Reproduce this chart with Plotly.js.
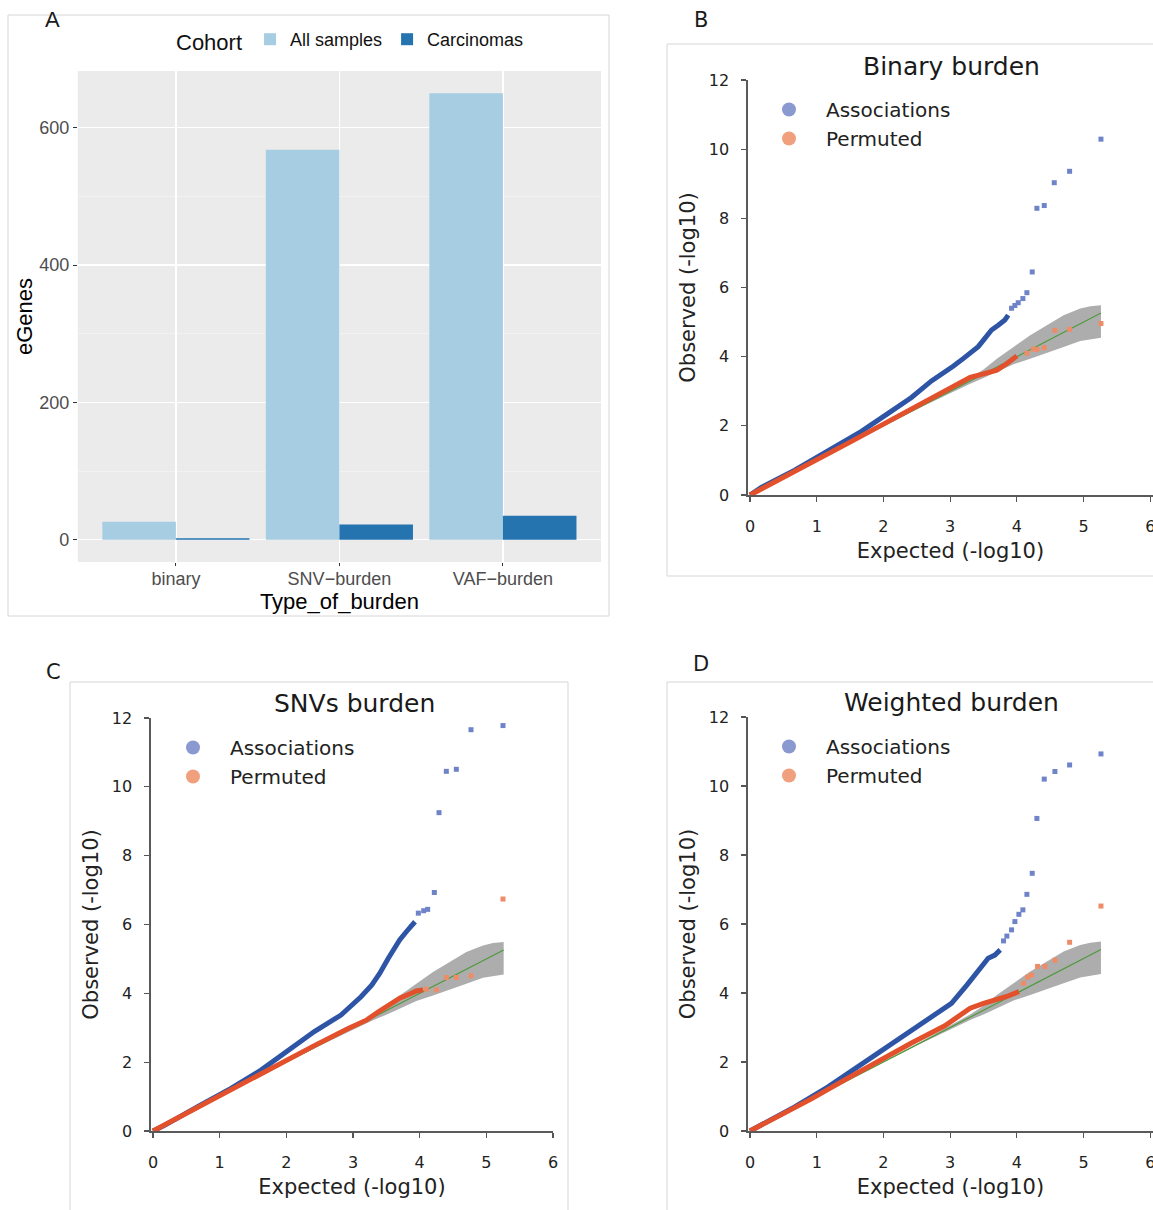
<!DOCTYPE html>
<html><head><meta charset="utf-8">
<script src="https://cdn.plot.ly/plotly-3.0.1.min.js"></script>
<style>html,body{margin:0;padding:0;background:#fff}#chart{width:1153px;height:1210px}</style>
</head><body><div id="chart"></div>
<script>
// ---------- Panel A data ----------
const burdenTypes = ['binary', 'SNV\u2212burden', 'VAF\u2212burden'];
const allSamples = [26, 568, 650];
const carcinomas = [2, 22, 35];

// ---------- shared QQ reference (null line + confidence band) ----------
const nullLineX = [0, 5.26];
const nullLineY = [0, 5.26];
const bandX     = [0, 1, 2, 2.6, 3.0, 3.3, 3.5, 3.7, 3.95, 4.2, 4.45, 4.7, 4.95, 5.1, 5.26];
const bandUpper = [0, 1.0, 2.01, 2.63, 3.05, 3.38, 3.63, 3.94, 4.28, 4.62, 4.91, 5.20, 5.39, 5.46, 5.49];
const bandLower = [0, 1.0, 1.99, 2.57, 2.95, 3.22, 3.38, 3.55, 3.78, 3.94, 4.12, 4.28, 4.45, 4.50, 4.55];

// ---------- Panel B: Binary burden ----------
const binAssocDenseX = [0, 0.17, 0.67, 1.17, 1.67, 2.07, 2.42, 2.72, 2.90, 3.05, 3.20, 3.32, 3.42, 3.52, 3.62, 3.72, 3.82, 3.87];
const binAssocDenseY = [0, 0.22, 0.72, 1.26, 1.84, 2.36, 2.82, 3.30, 3.52, 3.73, 3.95, 4.14, 4.29, 4.53, 4.77, 4.91, 5.06, 5.20];
const binAssocTailX  = [3.92, 3.97, 4.02, 4.09, 4.15, 4.23, 4.30, 4.41, 4.56, 4.79, 5.26];
const binAssocTailY  = [5.40, 5.48, 5.56, 5.68, 5.85, 6.45, 8.29, 8.37, 9.03, 9.36, 10.29];
const binPermDenseX  = [0, 0.5, 1.0, 1.5, 2.0, 2.5, 2.9, 3.1, 3.3, 3.5, 3.7, 3.85, 4.0];
const binPermDenseY  = [0, 0.5, 1.02, 1.53, 2.05, 2.56, 2.97, 3.20, 3.40, 3.50, 3.61, 3.80, 4.02];
const binPermTailX   = [4.15, 4.25, 4.30, 4.41, 4.57, 4.79, 5.26];
const binPermTailY   = [4.10, 4.22, 4.21, 4.26, 4.76, 4.79, 4.96];

// ---------- Panel C: SNVs burden ----------
const snvAssocDenseX = [0, 0.18, 0.67, 1.17, 1.62, 2.02, 2.42, 2.82, 3.12, 3.28, 3.40, 3.53, 3.60, 3.70, 3.80, 3.93];
const snvAssocDenseY = [0, 0.17, 0.71, 1.24, 1.77, 2.31, 2.89, 3.37, 3.90, 4.24, 4.58, 5.02, 5.26, 5.55, 5.79, 6.08];
const snvAssocTailX  = [3.98, 4.06, 4.12, 4.22, 4.29, 4.40, 4.55, 4.77, 5.25];
const snvAssocTailY  = [6.33, 6.40, 6.44, 6.93, 9.25, 10.45, 10.51, 11.66, 11.78];
const snvPermDenseX  = [0, 0.5, 1.0, 1.5, 1.92, 2.42, 2.92, 3.20, 3.37, 3.55, 3.70, 3.85, 3.95, 4.05];
const snvPermDenseY  = [0, 0.52, 1.04, 1.56, 2.0, 2.48, 2.97, 3.22, 3.45, 3.68, 3.86, 3.98, 4.07, 4.10];
const snvPermTailX   = [4.10, 4.25, 4.40, 4.55, 4.77, 5.25];
const snvPermTailY   = [4.12, 4.10, 4.46, 4.46, 4.51, 6.74];

// ---------- Panel D: Weighted burden ----------
const wAssocDenseX = [0, 0.17, 0.67, 1.17, 1.62, 2.02, 2.42, 2.72, 3.02, 3.25, 3.37, 3.47, 3.57, 3.67, 3.75];
const wAssocDenseY = [0, 0.17, 0.70, 1.28, 1.86, 2.40, 2.93, 3.31, 3.70, 4.23, 4.52, 4.81, 5.01, 5.10, 5.25];
const wAssocTailX  = [3.80, 3.85, 3.92, 3.97, 4.03, 4.09, 4.15, 4.23, 4.30, 4.41, 4.57, 4.79, 5.26];
const wAssocTailY  = [5.51, 5.65, 5.83, 6.07, 6.28, 6.41, 6.86, 7.47, 9.06, 10.20, 10.42, 10.61, 10.93];
const wPermDenseX  = [0, 0.92, 1.42, 1.92, 2.42, 2.92, 3.30, 3.50, 3.70, 3.85, 4.03];
const wPermDenseY  = [0, 0.93, 1.48, 2.02, 2.55, 3.05, 3.56, 3.70, 3.80, 3.90, 4.04];
const wPermTailX   = [4.10, 4.16, 4.22, 4.31, 4.42, 4.57, 4.79, 5.26];
const wPermTailY   = [4.28, 4.46, 4.52, 4.77, 4.77, 4.95, 5.47, 6.52];

const qqTickX = [0, 1, 2, 3, 4, 5, 6];
const qqTickY = [0, 2, 4, 6, 8, 10, 12];
const eGeneTicks = [0, 200, 400, 600];

// ---------- helpers ----------
const W = 1153, H = 1210;
const px = x => x / W;
const py = y => 1 - y / H;

const BLUE_DENSE = '#2e55a5', BLUE_TAIL = '#6f83c8', BLUE_LEG = '#8a99d0';
const RED_DENSE = '#e2512b', RED_TAIL = '#ee8c68', RED_LEG = '#f1a07e';
const MPL = 'DejaVu Sans';

function qqTraces(ax, leg, d) {
  const xa = 'x' + ax, ya = 'y' + ax;
  return [
    {type:'scatter', mode:'lines', x:bandX, y:bandLower, xaxis:xa, yaxis:ya, line:{width:0, color:'#adadad'}, showlegend:false, hoverinfo:'skip'},
    {type:'scatter', mode:'lines', x:bandX, y:bandUpper, xaxis:xa, yaxis:ya, fill:'tonexty', fillcolor:'#adadad', line:{width:0, color:'#adadad'}, showlegend:false, hoverinfo:'skip'},
    {type:'scatter', mode:'lines', x:nullLineX, y:nullLineY, xaxis:xa, yaxis:ya, line:{width:1.2, color:'#4e9a3c'}, showlegend:false},
    {type:'scatter', mode:'lines', x:d.aDx, y:d.aDy, xaxis:xa, yaxis:ya, line:{width:5, color:BLUE_DENSE}, showlegend:false},
    {type:'scatter', mode:'markers', x:d.aTx, y:d.aTy, xaxis:xa, yaxis:ya, marker:{symbol:'square', size:5, color:BLUE_TAIL}, showlegend:false},
    {type:'scatter', mode:'lines', x:d.pDx, y:d.pDy, xaxis:xa, yaxis:ya, line:{width:5, color:RED_DENSE}, showlegend:false},
    {type:'scatter', mode:'markers', x:d.pTx, y:d.pTy, xaxis:xa, yaxis:ya, marker:{symbol:'square', size:5, color:RED_TAIL}, showlegend:false},
    {type:'scatter', mode:'markers', x:[null], y:[null], xaxis:xa, yaxis:ya, name:'Associations', marker:{size:14, color:BLUE_LEG}, legend:leg, showlegend:true},
    {type:'scatter', mode:'markers', x:[null], y:[null], xaxis:xa, yaxis:ya, name:'Permuted', marker:{size:14, color:RED_LEG}, legend:leg, showlegend:true}
  ];
}

const traces = [
  {type:'bar', x:burdenTypes, y:allSamples, name:'All samples', marker:{color:'#a6cde2'}, xaxis:'x', yaxis:'y', legend:'legend'},
  {type:'bar', x:burdenTypes, y:carcinomas, name:'Carcinomas', marker:{color:'#2574b0'}, xaxis:'x', yaxis:'y', legend:'legend'},
  ...qqTraces('2', 'legend2', {aDx:binAssocDenseX, aDy:binAssocDenseY, aTx:binAssocTailX, aTy:binAssocTailY, pDx:binPermDenseX, pDy:binPermDenseY, pTx:binPermTailX, pTy:binPermTailY}),
  ...qqTraces('3', 'legend3', {aDx:snvAssocDenseX, aDy:snvAssocDenseY, aTx:snvAssocTailX, aTy:snvAssocTailY, pDx:snvPermDenseX, pDy:snvPermDenseY, pTx:snvPermTailX, pTy:snvPermTailY}),
  ...qqTraces('4', 'legend4', {aDx:wAssocDenseX, aDy:wAssocDenseY, aTx:wAssocTailX, aTy:wAssocTailY, pDx:wPermDenseX, pDy:wPermDenseY, pTx:wPermTailX, pTy:wPermTailY})
];

function qqX(anchor, domain, range) {
  return {anchor, domain, range, tickvals:qqTickX, ticks:'outside', ticklen:5, tickwidth:1.2, tickcolor:'#555',
    showline:true, linecolor:'#5a5a5a', linewidth:1.6, showgrid:false, zeroline:false, ticklabelstandoff:11,
    ticklabeloverflow:'allow', tickfont:{family:MPL, size:16, color:'#222'},
    title:{text:'Expected (-log10)', font:{family:MPL, size:21, color:'#222'}, standoff:8}};
}
function qqY(anchor, domain) {
  return {anchor, domain, range:[0, 12], tickvals:qqTickY, ticks:'outside', ticklen:5, tickwidth:1.2, tickcolor:'#555',
    showline:true, linecolor:'#5a5a5a', linewidth:1.6, showgrid:false, zeroline:false, ticklabelstandoff:9,
    tickfont:{family:MPL, size:16, color:'#222'},
    title:{text:'Observed (-log10)', font:{family:MPL, size:21, color:'#222'}, standoff:7}};
}
function qqLegend(x, y) {
  return {x:px(x), y:py(y), xanchor:'left', yanchor:'top', bgcolor:'rgba(0,0,0,0)', itemwidth:64,
    font:{family:MPL, size:20, color:'#222'}, itemsizing:'trace'};
}
function label(text, x, y, size, family) {
  return {text, xref:'paper', yref:'paper', x:px(x), y:py(y), xanchor:'center', yanchor:'middle', showarrow:false,
    font:{family, size, color:'#1a1a1a'}};
}

const frameLine = {color:'#d6d6d6', width:1};
const layout = {
  width:W, height:H, margin:{l:0, r:0, t:0, b:0}, paper_bgcolor:'#fff', plot_bgcolor:'rgba(0,0,0,0)',
  barmode:'group', bargap:0.1, bargroupgap:0,
  xaxis:{anchor:'y', domain:[px(77.8), px(601)], range:[-0.6, 2.6], type:'category', showgrid:true, gridcolor:'#fff', gridwidth:1.2,
    ticks:'outside', ticklen:3, tickcolor:'#333', ticklabelstandoff:-3, tickfont:{family:'Liberation Sans', size:18, color:'#4d4d4d'},
    zeroline:false, showline:false,
    title:{text:'Type_of_burden', font:{family:'Liberation Sans', size:22, color:'#000'}, standoff:0}},
  yaxis:{anchor:'x', domain:[py(562), py(71)], range:[-32.5, 682.5], tickvals:eGeneTicks, showgrid:true, gridcolor:'#fff', gridwidth:1.2,
    minor:{tickvals:[100, 300, 500], showgrid:true, gridcolor:'#f7f7f7', gridwidth:0.6, ticks:''},
    ticks:'outside', ticklen:4, tickcolor:'#333', tickfont:{family:'Liberation Sans', size:18, color:'#4d4d4d'},
    zeroline:false, showline:false,
    title:{text:'eGenes', font:{family:'Liberation Sans', size:22, color:'#000'}, standoff:0}},
  xaxis2:qqX('y2', [px(748), 1], [-0.03, 6.04]),
  yaxis2:qqY('x2', [py(495), py(80)]),
  xaxis3:qqX('y3', [px(151), px(553)], [-0.03, 6.0]),
  yaxis3:qqY('x3', [py(1131), py(718)]),
  xaxis4:qqX('y4', [px(748), 1], [-0.03, 6.04]),
  yaxis4:qqY('x4', [py(1131), py(717)]),
  legend:{orientation:'h', traceorder:'normal', x:px(174), y:py(21), xanchor:'left', yanchor:'top', bgcolor:'rgba(0,0,0,0)',
    title:{text:'Cohort', side:'left', font:{family:'Liberation Sans', size:22, color:'#111'}},
    font:{family:'Liberation Sans', size:18, color:'#111'}, itemwidth:30},
  legend2:qqLegend(752, 90),
  legend3:qqLegend(156, 728),
  legend4:qqLegend(752, 727),
  shapes:[
    {type:'rect', xref:'paper', yref:'paper', x0:px(8), x1:px(609), y0:py(616), y1:py(15), line:frameLine, layer:'below'},
    {type:'rect', xref:'paper', yref:'paper', x0:px(77.8), x1:px(601), y0:py(562), y1:py(71), fillcolor:'#ebebeb', line:{width:0}, layer:'below'},
    {type:'rect', xref:'paper', yref:'paper', x0:px(667), x1:1.05, y0:py(576), y1:py(44), line:frameLine, layer:'below'},
    {type:'rect', xref:'paper', yref:'paper', x0:px(70), x1:px(568), y0:-0.05, y1:py(682), line:frameLine, layer:'below'},
    {type:'rect', xref:'paper', yref:'paper', x0:px(667), x1:1.05, y0:-0.05, y1:py(682), line:frameLine, layer:'below'}
  ],
  annotations:[
    label('A', 52, 20, 22, 'Liberation Sans'),
    label('B', 701, 20, 21, MPL),
    label('C', 53, 672, 21, MPL),
    label('D', 701, 664, 21, MPL),
    label('Binary burden', 951, 66, 25, MPL),
    label('SNVs burden', 354, 703, 25, MPL),
    label('Weighted burden', 951, 702, 25, MPL)
  ]
};

Plotly.newPlot('chart', traces, layout, {staticPlot:true, displayModeBar:false});
</script></body></html>
